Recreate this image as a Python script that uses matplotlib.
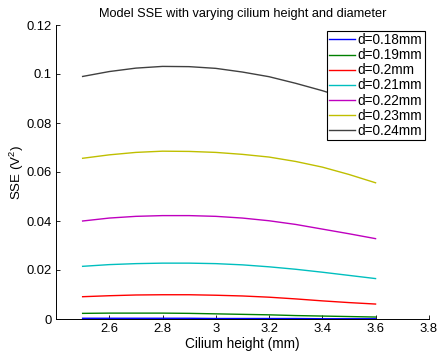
import matplotlib
matplotlib.use("Agg")
import matplotlib.pyplot as plt

plt.rcParams['font.family'] = ['Liberation Sans', 'DejaVu Sans']
plt.rcParams['mathtext.default'] = 'regular'

heights = [2.5, 2.6, 2.7, 2.8, 2.9, 3.0, 3.1, 3.2, 3.3, 3.4, 3.5, 3.6]
labels = ['d=0.18mm', 'd=0.19mm', 'd=0.2mm', 'd=0.21mm', 'd=0.22mm', 'd=0.23mm', 'd=0.24mm']
sse_018 = [0.0003, 0.0003, 0.0003, 0.0003, 0.0003, 0.0002, 0.0002, 0.0002, 0.0002, 0.0001, 0.0001, 0.0001]
sse_019 = [0.0023, 0.0024, 0.0024, 0.0024, 0.0023, 0.0021, 0.0019, 0.0017, 0.0014, 0.0012, 0.0010, 0.0008]
sse_020 = [0.0091, 0.0095, 0.0098, 0.0099, 0.0099, 0.0097, 0.0094, 0.0089, 0.0082, 0.0074, 0.0067, 0.0061]
sse_021 = [0.0215, 0.0222, 0.0226, 0.0228, 0.0228, 0.0226, 0.0221, 0.0213, 0.0203, 0.0191, 0.0178, 0.0165]
sse_022 = [0.0400, 0.0412, 0.0419, 0.0422, 0.0422, 0.0419, 0.0412, 0.0401, 0.0386, 0.0367, 0.0348, 0.0328]
sse_023 = [0.0656, 0.0670, 0.0680, 0.0685, 0.0684, 0.0680, 0.0672, 0.0661, 0.0643, 0.0620, 0.0590, 0.0556]
sse_024 = [0.0990, 0.1010, 0.1024, 0.1031, 0.1030, 0.1023, 0.1008, 0.0989, 0.0962, 0.0932, 0.0898, 0.0860]
series = [sse_018, sse_019, sse_020, sse_021, sse_022, sse_023, sse_024]
colors = [(0, 0, 1), (0, 0.5, 0), (1, 0, 0), (0, 0.75, 0.75),
          (0.75, 0, 0.75), (0.75, 0.75, 0), (0.25, 0.25, 0.25)]

xticks = [2.6, 2.8, 3.0, 3.2, 3.4, 3.6, 3.8]
xticklabels = ['2.6', '2.8', '3', '3.2', '3.4', '3.6', '3.8']
yticks = [0, 0.02, 0.04, 0.06, 0.08, 0.1, 0.12]
yticklabels = ['0', '0.02', '0.04', '0.06', '0.08', '0.1', '0.12']

fig = plt.figure(figsize=(4.38, 3.54), dpi=100)
ax = fig.add_axes([56 / 438, 1 - 319 / 354, (428.8 - 56) / 438, (319 - 25) / 354])

for vals, c, lab in zip(series, colors, labels):
    ax.plot(heights, vals, color=c, lw=1.0, label=lab)

ax.set_xlim(2.4, 3.8)
ax.set_ylim(0, 0.12)
ax.set_xticks(xticks)
ax.set_xticklabels(xticklabels)
ax.set_yticks(yticks)
ax.set_yticklabels(yticklabels)
ax.tick_params(direction='in', length=3, labelsize=9.4, width=0.6, pad=3)
ax.spines['top'].set_visible(False)
ax.spines['right'].set_visible(False)
for s in ['left', 'bottom']:
    ax.spines[s].set_linewidth(0.7)

ax.set_title('Model SSE with varying cilium height and diameter', fontsize=9.2, pad=6)
ax.set_xlabel('Cilium height (mm)', fontsize=9.8, labelpad=1)
ax.set_ylabel('SSE (V$^2$)', fontsize=9.6, labelpad=0.5)

leg = ax.legend(loc='upper right', bbox_to_anchor=(424.5 / 438, 1 - 30.5 / 354),
                bbox_transform=fig.transFigure, fontsize=9.8, frameon=True, fancybox=False,
                borderaxespad=0, handlelength=1.9, handletextpad=0.15, borderpad=0.2,
                labelspacing=0.08, framealpha=1)
leg.get_frame().set_edgecolor('black')
leg.get_frame().set_linewidth(0.8)

fig.savefig('out.png', dpi=100)
